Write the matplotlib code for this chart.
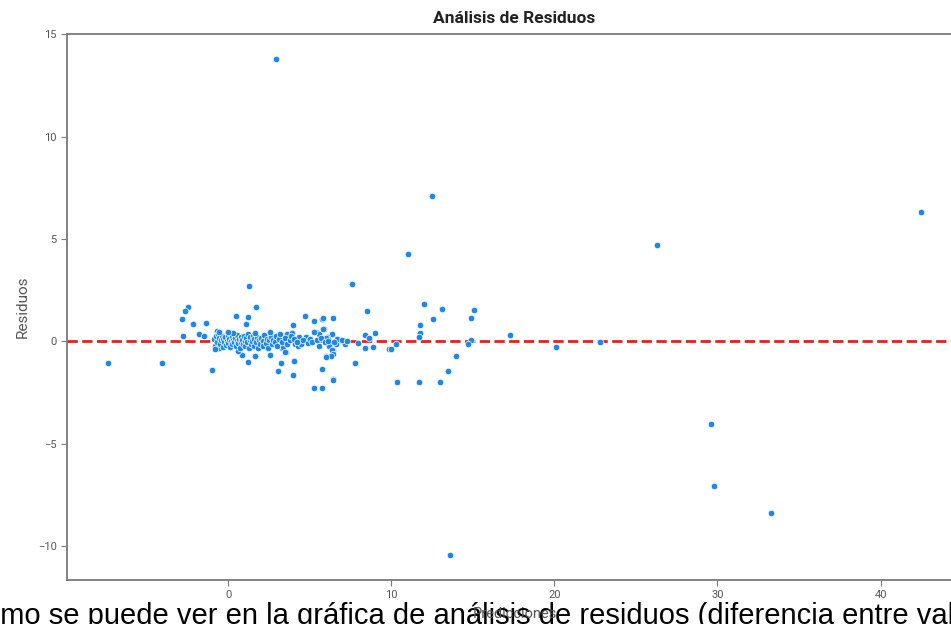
import numpy as np
import matplotlib.pyplot as plt

# predicciones / residuos
pred_outliers = [2.95, 12.5, 11.0, 26.3, 42.5, 29.6, 29.8, 33.3, 13.6, 22.8, 20.1, 17.3,
                 -7.4, -4.05]
res_outliers = [13.8, 7.1, 4.25, 4.73, 6.3, -4.05, -7.07, -8.39, -10.44, -0.03, -0.26, 0.33,
                -1.05, -1.05]

pred_mid = [-2.5, -2.64, -2.84, -2.15, -2.78, -1.82, -1.5, -1.37, -1.0, 1.27, 0.49, 1.19,
            1.06, 1.7, 1.19, 0.84, 1.64, 2.54, 3.03, 3.23, 3.97, 4.03, 3.95, 4.68,
            5.24, 5.75, 5.83, 6.44, 7.57, 8.49, 8.98, 7.79, 5.24, 5.73, 5.73, 6.44,
            6.0, 6.3, 6.44, 8.36, 8.4, 8.85, 8.6, 7.93, 7.14, 5.38, 5.58, 5.85,
            6.36, 3.62, 3.9, 4.76, 3.54, 3.27, 2.56, 1.9, 0.61, 1.57, -0.7, -0.55,
            9.86, 10.0, 10.26, 10.33, 11.68, 12.97, 13.48, 13.95, 11.98, 13.1, 12.54, 11.78,
            11.76, 11.68, 15.09, 14.89, 14.89, 14.68, 5.79, 5.24, 6.03, 6.1, 6.71, 6.85,
            6.6, 6.15, 6.36, 6.44, 4.46, 4.36, 4.74, 5.28, 5.99, 6.67, 3.25, 3.37,
            3.5, 4.11, 4.29, 4.48, 5.58, 6.3, 6.01, 4.03, 3.25, 3.95, 6.44]
res_mid = [1.7, 1.48, 1.07, 0.84, 0.26, 0.37, 0.24, 0.89, -1.41, 2.7, 1.25, 1.19,
           0.84, 1.66, -1.01, -0.67, -0.72, -0.67, -1.46, -1.06, -1.64, -0.94, 0.78, 1.25,
           1.01, 1.07, 1.14, 1.14, 2.81, 1.48, 0.42, -1.06, -2.28, -2.28, -1.35, -1.85,
           -0.72, -0.72, -0.44, 0.31, -0.31, -0.28, 0.15, -0.08, -0.15, 0.46, 0.37, 0.62,
           0.37, 0.37, 0.42, 0.21, -0.52, -0.31, 0.32, -0.24, -0.47, 0.37, 0.49, -0.34,
           -0.37, -0.37, -0.15, -1.98, -1.98, -1.98, -1.46, -0.72, 1.82, 1.59, 1.07, 0.78,
           0.39, 0.21, 1.55, 1.14, 0.05, -0.15, 0.6, 0.44, 0.21, 0.1, 0.13, 0.05,
           -0.11, -0.21, -0.44, -0.6, -0.15, 0.2, 0.2, 0.46, 0.18, 0.13, 0.05, -0.28,
           -0.54, -0.11, -0.2, -0.13, -0.2, -0.73, -0.75, -0.96, -1.06, -1.66, -1.87]

pred_cluster = [-0.9, -0.8, -0.75, -0.7, -0.65, -0.6, -0.55, -0.5, -0.45, -0.4, -0.35, -0.3,
                -0.25, -0.2, -0.15, -0.1, -0.05, 0.0, 0.05, 0.1, 0.15, 0.2, 0.25, 0.3,
                0.35, 0.4, 0.45, 0.5, 0.55, 0.6, 0.65, 0.7, 0.75, 0.8, 0.85, 0.9,
                0.95, 1.0, 1.05, 1.1, 1.15, 1.2, 1.25, 1.3, 1.35, 1.4, 1.45, 1.5,
                1.55, 1.6, 1.7, 1.75, 1.8, 1.85, 1.95, 2.0, 2.1, 2.15, 2.2, 2.3,
                2.35, 2.45, 2.5, 2.6, 2.7, 2.75, 2.85, 2.9, 3.0, 3.1, 3.15, 3.3,
                3.45, 3.6, 3.75, 3.85, 4.05, 4.2, 4.6, 4.9, 5.0, 5.1, 5.45, 5.7,
                5.9, 6.1, 6.5, 6.95, 7.3, -0.85, 0.3, 1.65, 2.55, 0.0, -0.6]
res_cluster = [0.1, -0.2, 0.25, -0.05, 0.35, -0.3, 0.15, -0.12, 0.05, 0.28, -0.25, 0.1,
               -0.05, 0.2, -0.18, 0.03, 0.3, -0.1, 0.12, -0.28, 0.02, 0.22, -0.15, 0.08,
               -0.04, 0.18, -0.22, 0.0, 0.3, -0.1, 0.1, -0.3, 0.2, -0.02, 0.06, -0.15,
               0.25, 0.0, -0.2, 0.15, -0.05, 0.35, -0.3, 0.05, 0.2, -0.12, 0.02, 0.28,
               -0.2, 0.1, -0.05, 0.22, -0.3, 0.08, -0.12, 0.18, 0.0, -0.22, 0.3, -0.08,
               0.12, -0.3, 0.05, 0.2, -0.15, 0.08, -0.02, 0.25, -0.2, 0.1, 0.38, -0.05,
               0.15, -0.12, 0.05, 0.25, 0.1, -0.05, 0.05, -0.1, 0.12, -0.02, 0.08, 0.15,
               -0.05, 0.0, -0.05, 0.08, 0.0, -0.35, 0.4, 0.42, 0.45, 0.45, 0.45]

pred = np.array(pred_outliers + pred_mid + pred_cluster)
res = np.array(res_outliers + res_mid + res_cluster)

fig = plt.figure(figsize=(9.51, 6.24), dpi=100)
ax = fig.add_axes([0.0705, 0.0705, 0.941, 0.875])
ax.set_zorder(2)
ax.patch.set_alpha(0)

ax.scatter(pred, res, s=22, color='#1f87e5', edgecolor='white', linewidth=0.5, zorder=3)
ax.axhline(0, color='#ee1c1c', linestyle='--', linewidth=2, zorder=2)

ax.set_title('Análisis de Residuos', fontfamily='Roboto', fontweight='bold',
             fontsize=12.5, color='#222222', pad=8)
ax.set_xlabel('Predicciones', fontfamily='Roboto', fontsize=10.5, color='#555555', labelpad=5)
ax.set_ylabel('Residuos', fontfamily='Roboto', fontsize=11, color='#555555', labelpad=6)

for s in ax.spines.values():
    s.set_color('#7a7a7a')
    s.set_linewidth(1.3)
ax.tick_params(colors='#7a7a7a', labelcolor='#555555', labelsize=8, length=4)
for lab in ax.get_xticklabels() + ax.get_yticklabels():
    lab.set_fontfamily('Roboto')

# texto del documento que se solapa abajo
fig.text(-0.039, 0.0, 'Como se puede ver en la gráfica de análisis de residuos (diferencia entre valores reales y predichos)',
         fontfamily='Liberation Sans', fontsize=21, color='black', va='baseline', ha='left',
         zorder=1)

fig.savefig('out.png', dpi=100)
